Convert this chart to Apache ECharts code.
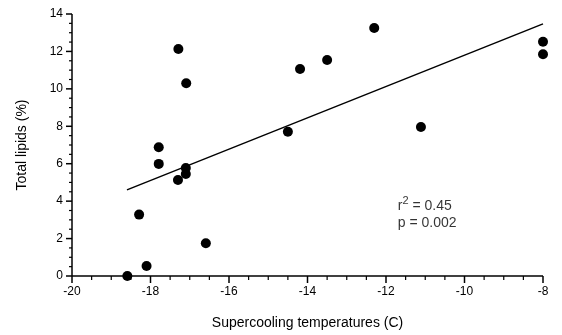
<!DOCTYPE html>
<html><head><meta charset="utf-8">
<script src="https://cdn.jsdelivr.net/npm/echarts@6/dist/echarts.min.js"></script>
<style>html,body{margin:0;padding:0;background:#fff}#c{width:562px;height:335px}</style>
</head><body><div id="c"></div>
<script>
const temps  = [-18.59,-18.29,-18.10,-17.79,-17.79,-17.30,-17.10,-17.10,-16.59,-17.29,-17.09,-14.19,-14.50,-13.50,-12.30,-11.11,-8.0,-8.0];
const lipids = [0,3.28,0.53,6.88,5.99,5.13,5.77,5.45,1.75,12.13,10.30,11.06,7.71,11.54,13.25,7.96,12.52,11.85];
const fitX = [-18.6, -8.0];
const fitY = [4.6, 13.47];
const statsAnchor = [-11.7, 3.3];
const xTicks = [-20,-18,-16,-14,-12,-10,-8];
const yTicks = [0,2,4,6,8,10,12,14];

const font = 'Liberation Sans, Arial, sans-serif';
const minorSplit = 4;
function minorOf(ticks){
  const out = [];
  for (let i = 0; i < ticks.length - 1; i++) {
    const step = (ticks[i+1] - ticks[i]) / minorSplit;
    for (let k = 1; k < minorSplit; k++) out.push(ticks[i] + step * k);
  }
  return out;
}
const xMinor = minorOf(xTicks), yMinor = minorOf(yTicks);
const xMin = xTicks[0], xMax = xTicks[xTicks.length-1];
const yMin = yTicks[0], yMax = yTicks[yTicks.length-1];

function axisFrame(params, api){
  const st = {stroke:'#000', lineWidth:1.5};
  const kids = [];
  const o = api.coord([xMin, yMin]);
  const xe = api.coord([xMax, yMin]);
  const ye = api.coord([xMin, yMax]);
  kids.push({type:'line', shape:{x1:o[0], y1:o[1], x2:xe[0], y2:xe[1]}, style:st});
  kids.push({type:'line', shape:{x1:o[0], y1:o[1], x2:ye[0], y2:ye[1]}, style:st});
  xTicks.forEach(v => { const p = api.coord([v, yMin]);
    kids.push({type:'line', shape:{x1:p[0], y1:p[1], x2:p[0], y2:p[1]+7}, style:st}); });
  xMinor.forEach(v => { const p = api.coord([v, yMin]);
    kids.push({type:'line', shape:{x1:p[0], y1:p[1], x2:p[0], y2:p[1]+4}, style:{stroke:'#000', lineWidth:1.2}}); });
  yTicks.forEach(v => { const p = api.coord([xMin, v]);
    kids.push({type:'line', shape:{x1:p[0]-6, y1:p[1], x2:p[0], y2:p[1]}, style:st}); });
  yMinor.forEach(v => { const p = api.coord([xMin, v]);
    kids.push({type:'line', shape:{x1:p[0]-3, y1:p[1], x2:p[0], y2:p[1]}, style:{stroke:'#000', lineWidth:1.2}}); });
  return {type:'group', children:kids};
}

const chart = echarts.init(document.getElementById('c'), null, {renderer:'canvas'});
chart.setOption({
  animation:false,
  grid:{left:72,right:19,top:14,bottom:59},
  xAxis:{type:'value',min:xMin,max:xMax,interval:2,
    name:'Supercooling temperatures (C)',nameLocation:'middle',nameGap:40,
    nameTextStyle:{fontFamily:font,fontSize:14,color:'#000'},
    axisLine:{show:false},axisTick:{show:false},
    axisLabel:{show:true,margin:10,fontFamily:font,fontSize:12,color:'#000'},
    splitLine:{show:false}},
  yAxis:{type:'value',min:yMin,max:yMax,interval:2,
    name:'Total lipids (%)',nameLocation:'middle',nameGap:43,
    nameTextStyle:{fontFamily:font,fontSize:14,color:'#000'},
    axisLine:{show:false},axisTick:{show:false},
    axisLabel:{show:true,margin:9,fontFamily:font,fontSize:12,color:'#000'},
    splitLine:{show:false}},
  series:[
    {type:'custom',renderItem:axisFrame,data:[[xMin,yMin]],clip:false,silent:true,z:1},
    {type:'line',data:fitX.map((x,i)=>[x,fitY[i]]),symbol:'none',
     lineStyle:{color:'#000',width:1.5},z:2},
    {type:'scatter',data:temps.map((x,i)=>[x,lipids[i]]),symbol:'circle',symbolSize:10,
     itemStyle:{color:'#000',opacity:1},z:3},
    {type:'scatter',data:[statsAnchor],symbolSize:0,silent:true,
     label:{show:true,position:'right',distance:0,
       formatter:'{a|r}{s|2}{a| = 0.45}\n{a|p = 0.002}',
       lineHeight:17,
       rich:{a:{fontFamily:font,fontSize:14,color:'#000',lineHeight:17},
             s:{fontFamily:font,fontSize:11,color:'#000',lineHeight:17,padding:[0,0,9,0]}}}}
  ]
});
</script></body></html>
